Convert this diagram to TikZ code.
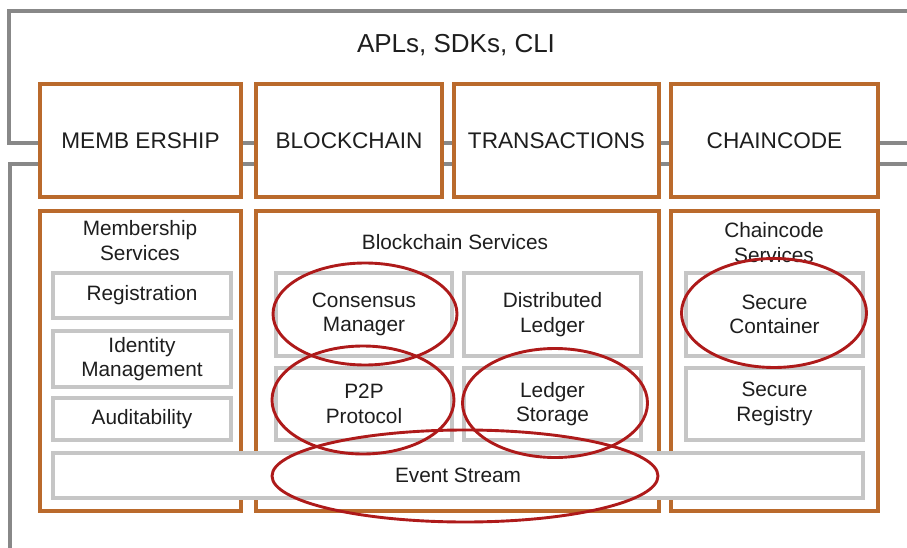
\documentclass[tikz,border=0pt]{standalone}
\usepackage{fontspec}
\setmainfont{Liberation Sans}
\usetikzlibrary{shapes.geometric}
\definecolor{frameGray}{HTML}{888888}
\definecolor{boxOrange}{HTML}{BA6A2C}
\definecolor{cellGray}{HTML}{C6C6C6}
\definecolor{ringRed}{HTML}{AE1A1A}
\definecolor{inkDark}{HTML}{1E1E1E}
\begin{document}
\begin{tikzpicture}[x=1pt,y=-1pt,
  frame/.style={draw=frameGray, line width=3.2pt},
  topbox/.style={draw=boxOrange, line width=3.1pt, fill=white, inner sep=0pt,
    text=inkDark, font=\fontsize{22.6}{26}\selectfont},
  svcbox/.style={draw=boxOrange, line width=3.1pt, fill=white, inner sep=0pt},
  svclabel/.style={text=inkDark, align=center, inner sep=0pt,
    font=\fontsize{20.8}{25}\selectfont},
  cell/.style={draw=cellGray, line width=3.2pt, fill=white, inner sep=0pt,
    text=inkDark, align=center, font=\fontsize{20.8}{24.5}\selectfont},
  ring/.style={draw=ringRed, line width=2.9pt, ellipse, inner sep=0pt}]
\useasboundingbox (0,0) rectangle (907,548);
\fill[white] (0,0) rectangle (907,548);

% outer frames of the API layer and the service layer
\coordinate (apiR)  at (910,11);
\coordinate (apiTL) at (9,11);
\coordinate (apiBL) at (9,143);
\coordinate (apiBR) at (910,143);
\coordinate (svcR)  at (910,164);
\coordinate (svcTL) at (10,164);
\coordinate (svcBL) at (10,552);
\draw[frame] (apiR) -- (apiTL) -- (apiBL) -- (apiBR);
\draw[frame] (svcR) -- (svcTL) -- (svcBL);

\node[text=inkDark, font=\fontsize{26}{30}\selectfont] (api) at (456,45) {APLs, SDKs, CLI};

% top row of components
\node[topbox, minimum width=201pt, minimum height=113pt] (memb)  at (140.5,140.5) {MEMB ERSHIP};
\node[topbox, minimum width=186pt, minimum height=113pt] (chain) at (349,140.5) {BLOCKCHAIN};
\node[topbox, minimum width=205pt, minimum height=113pt] (trans) at (556.5,140.5) {TRANSACTIONS};
\node[topbox, minimum width=207pt, minimum height=113pt] (ccode) at (774.5,140.5) {CHAINCODE};

% service containers
\node[svcbox, minimum width=201pt, minimum height=300pt] (msvc) at (140.5,361) {};
\node[svcbox, minimum width=403pt, minimum height=300pt] (bsvc) at (457.5,361) {};
\node[svcbox, minimum width=207pt, minimum height=300pt] (csvc) at (774.5,361) {};

\node[svclabel] (msvcT) at (140,241) {Membership\\Services};
\node[svclabel] (bsvcT) at (455,242) {Blockchain Services};
\node[svclabel] (csvcT) at (774,243) {Chaincode\\Services};

% membership cells
\node[cell, minimum width=178pt, minimum height=45pt] (reg) at (142,295.5) {Registration};
\node[cell, minimum width=178pt, minimum height=56pt] (idm) at (142,359) {Identity\\Management};
\node[cell, minimum width=178pt, minimum height=42pt] (aud) at (142,419) {Auditability};

% blockchain cells
\node[cell, minimum width=176pt, minimum height=83pt] (cons) at (364,314.5) {Consensus\\Manager};
\node[cell, minimum width=177pt, minimum height=83pt] (dled) at (552.5,314.5) {Distributed\\Ledger};
\node[cell, minimum width=176pt, minimum height=72pt] (p2p)  at (364,404) {P2P\\Protocol};
\node[cell, minimum width=177pt, minimum height=72pt] (lsto) at (552.5,404) {Ledger\\Storage};

% chaincode cells
\node[cell, minimum width=177pt, minimum height=83pt] (scon) at (774.5,314.5) {Secure\\Container};
\node[cell, minimum width=177pt, minimum height=72pt] (sreg) at (774.5,404) {Secure\\Registry};

% shared event bus
\node[cell, minimum width=810pt, minimum height=45pt] (evt) at (458,475.5) {Event Stream};

% highlight rings
\node[ring, minimum width=184pt, minimum height=102pt] (ringCons) at (365,314) {};
\node[ring, minimum width=182pt, minimum height=108pt] (ringP2p)  at (363,400) {};
\node[ring, minimum width=185pt, minimum height=109pt] (ringLsto) at (555,403) {};
\node[ring, minimum width=386pt, minimum height=92pt]  (ringEvt)  at (465,476) {};
\node[ring, minimum width=185pt, minimum height=109pt] (ringScon) at (774,313) {};
\end{tikzpicture}
\end{document}
